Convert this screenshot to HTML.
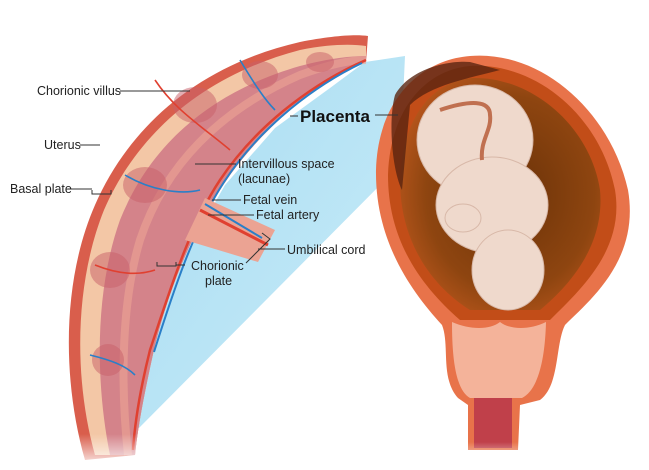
<!DOCTYPE html>
<html><head><meta charset="utf-8"><style>
body{margin:0;background:#fff;width:649px;height:470px;overflow:hidden}
svg{display:block}
text{font-family:"Liberation Sans",sans-serif;fill:#222;font-size:12.5px}
</style></head><body>
<svg width="649" height="470" viewBox="0 0 649 470">
<defs>
<linearGradient id="bl" x1="0" y1="0" x2="1" y2="1"><stop offset="0" stop-color="#a8dcf2"/><stop offset="1" stop-color="#c9ecf8"/></linearGradient>
<radialGradient id="cav" cx="0.55" cy="0.5" r="0.6"><stop offset="0" stop-color="#6a3208"/><stop offset="0.7" stop-color="#8e4510"/><stop offset="1" stop-color="#b8561c"/></radialGradient>
<linearGradient id="fade" x1="0" y1="0" x2="0" y2="1"><stop offset="0.6" stop-color="#fff" stop-opacity="0"/><stop offset="1" stop-color="#fff" stop-opacity="1"/></linearGradient>
</defs>
<polygon points="365,62 405,56 400,165 135,432 145,380 160,320 185,255 225,185 275,128 330,88" fill="url(#bl)"/>
<path d="M85,460 C62,380 62,280 95,205 C130,125 200,65 300,42 C330,36 355,34 368,36 L366,62 C320,82 270,120 230,175 C195,225 170,285 155,345 C145,390 138,425 135,455 Z" fill="#d95e4c"/>
<path d="M95,455 C74,380 74,285 104,210 C138,132 205,75 300,50 C330,44 352,44 366,46 L366,62 C320,82 270,120 230,175 C195,225 170,285 155,345 C145,390 138,425 135,455 Z" fill="#f3c7a6"/>
<path d="M110,455 C95,380 95,290 120,220 C150,145 210,92 300,66 C330,58 352,56 366,56 L366,62 C320,82 270,120 230,175 C195,225 170,285 155,345 C145,390 138,425 135,455 Z" fill="#d4838a"/>
<path d="M128,455 C120,380 122,300 140,240 C165,165 220,110 300,75 C330,64 352,60 366,60" fill="none" stroke="#eda595" stroke-width="8" opacity="0.6"/>
<g fill="#c9606a" opacity="0.5">
<ellipse cx="195" cy="105" rx="22" ry="18"/><ellipse cx="260" cy="75" rx="18" ry="14"/><ellipse cx="320" cy="62" rx="14" ry="10"/>
<ellipse cx="145" cy="185" rx="22" ry="18"/><ellipse cx="110" cy="270" rx="20" ry="18"/><ellipse cx="108" cy="360" rx="16" ry="16"/>
</g>
<g fill="none" stroke-width="1.6">
<path d="M155,80 C175,110 200,125 230,150" stroke="#e04030"/><path d="M240,60 C255,85 265,100 275,110" stroke="#2a7fc8"/>
<path d="M125,175 C150,190 180,195 200,190" stroke="#2a7fc8"/><path d="M95,265 C120,275 140,275 155,270" stroke="#e04030"/>
<path d="M90,355 C110,360 125,365 135,375" stroke="#2a7fc8"/>
<path d="M366,60 C320,80 260,120 220,180 C190,225 170,290 150,350 C140,390 135,420 133,450" stroke="#e04030" stroke-width="2.5"/>
<path d="M362,63 C318,84 262,124 224,182 C194,228 173,292 154,352" stroke="#2a7fc8" stroke-width="2"/>
</g>
<polygon points="185,240 205,198 275,230 258,262" fill="#eba393"/>
<path d="M200,210 L268,245" stroke="#e04030" stroke-width="3"/><path d="M205,204 L262,238" stroke="#2a7fc8" stroke-width="2"/>
<rect x="0" y="380" width="200" height="90" fill="url(#fade)"/>
<!-- uterus -->
<path d="M470,56 C540,50 610,110 628,190 C640,260 590,300 565,325 C555,345 560,385 540,400 L520,405 L518,450 L468,450 L468,405 L458,398 C440,378 450,345 442,325 C410,290 375,240 376,170 C378,100 420,60 470,56 Z" fill="#e8734a"/>
<path d="M470,66 C535,62 600,115 615,190 C625,250 580,290 550,320 L460,320 C420,285 388,240 388,175 C390,110 425,70 470,66 Z" fill="#c24d18"/>
<path d="M472,78 C530,76 590,125 600,190 C605,245 570,285 540,310 L470,310 C430,285 400,240 400,180 C402,120 430,82 472,78 Z" fill="url(#cav)"/>
<path d="M395,95 C410,68 450,60 470,62 L500,70 C470,78 430,85 410,105 L402,190 C392,170 388,120 395,95 Z" fill="#5a2410" opacity="0.8"/>
<path d="M452,322 C470,330 490,330 500,322 C510,330 530,330 546,322 C545,360 538,390 522,398 L470,398 C456,390 452,360 452,322 Z" fill="#f4b39a"/>
<rect x="474" y="398" width="38" height="50" fill="#c0404a"/>
<rect x="360" y="400" width="220" height="70" fill="url(#fade)"/>
<!-- fetus -->
<g fill="#efd9cc" stroke="#d8b8a8" stroke-width="1">
<ellipse cx="475" cy="140" rx="58" ry="55"/>
<ellipse cx="492" cy="205" rx="56" ry="48"/>
<ellipse cx="508" cy="270" rx="36" ry="40"/>
<ellipse cx="463" cy="218" rx="18" ry="14"/>
</g>
<path d="M440,110 C470,100 490,100 490,115 C492,130 480,140 482,160" stroke="#c07050" stroke-width="4" fill="none"/>
<g stroke="#333" stroke-width="1" fill="none">
<line x1="120" y1="91" x2="190" y2="91"/>
<line x1="80" y1="145" x2="100" y2="145"/>
<line x1="68" y1="189" x2="92" y2="189"/><path d="M92,190 L92,194 L111,194 L111,190"/>
<line x1="290" y1="116" x2="298" y2="116"/><line x1="375" y1="115" x2="398" y2="115"/>
<line x1="195" y1="164" x2="236" y2="164"/>
<line x1="212" y1="200" x2="241" y2="200"/><line x1="208" y1="215" x2="254" y2="215"/>
<path d="M262,233 L270,239 L246,263"/><line x1="258" y1="249" x2="285" y2="249"/>
<path d="M157,262 L157,266 L176,266 L176,262"/><line x1="176" y1="265" x2="185" y2="265"/>
</g>
<text x="37" y="95">Chorionic villus</text>
<text x="44" y="149">Uterus</text>
<text x="10" y="193">Basal plate</text>
<text x="300" y="122" style="font-size:17px;font-weight:bold;fill:#111">Placenta</text>
<text x="238" y="168">Intervillous space</text>
<text x="238" y="183">(lacunae)</text>
<text x="243" y="204">Fetal vein</text>
<text x="256" y="219">Fetal artery</text>
<text x="287" y="254">Umbilical cord</text>
<text x="191" y="270">Chorionic</text>
<text x="205" y="285">plate</text>
</svg>
</body></html>
